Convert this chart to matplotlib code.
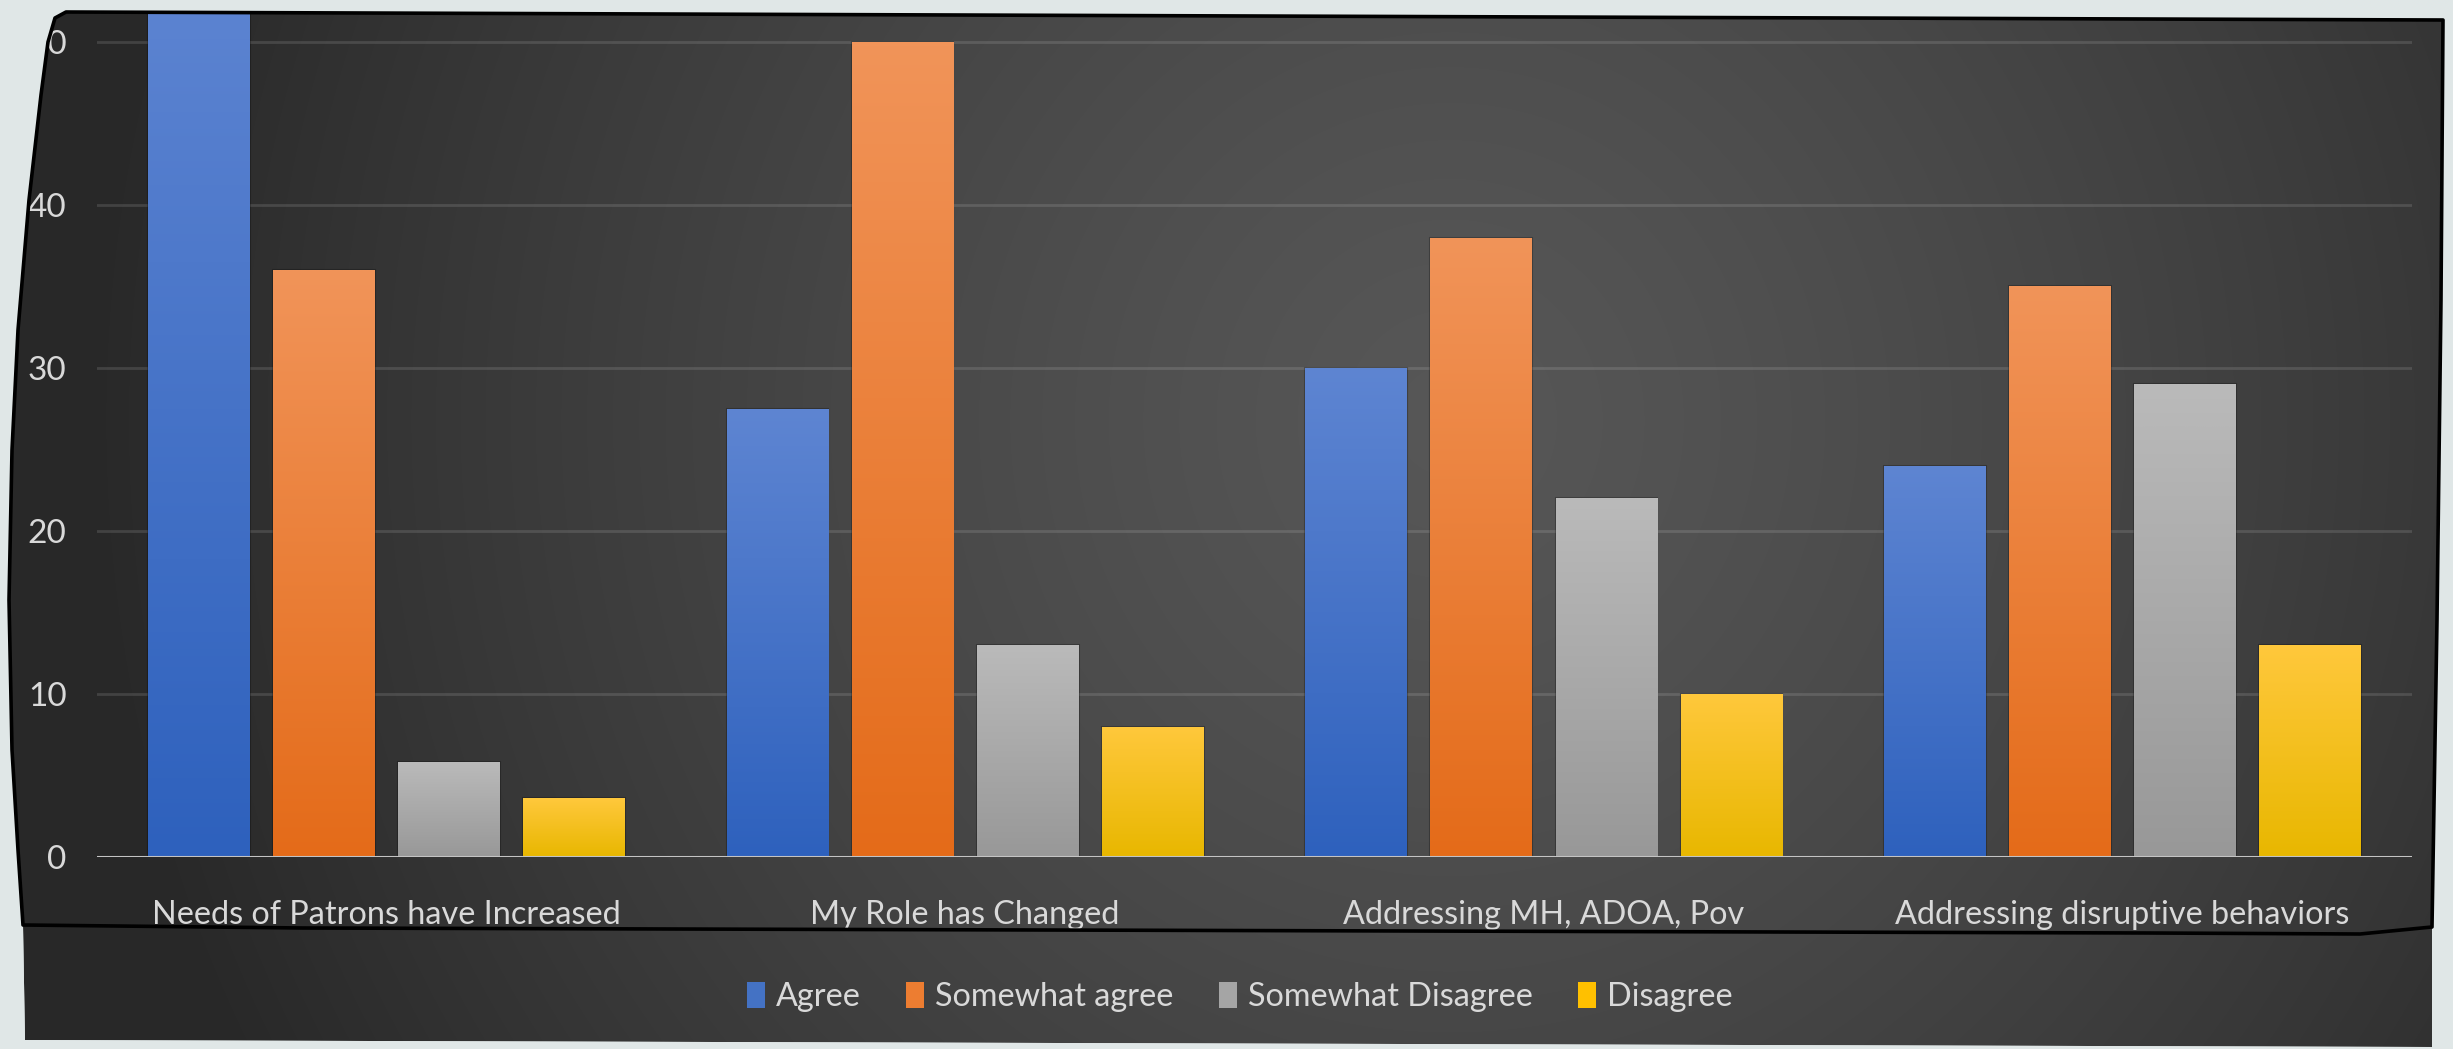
import numpy as np
import matplotlib
matplotlib.use("Agg")
import matplotlib.pyplot as plt
from matplotlib.patches import Polygon, Patch, PathPatch
from matplotlib.path import Path
from matplotlib.colors import LinearSegmentedColormap

# ---------------- data ----------------
categories = ["Needs of Patrons have Increased", "My Role has Changed",
              "Addressing MH, ADOA, Pov", "Addressing disruptive behaviors"]
series = ["Agree", "Somewhat agree", "Somewhat Disagree", "Disagree"]
agree = [55, 27.5, 30, 24]
somewhat_agree = [36, 50, 38, 35]
somewhat_disagree = [5.8, 13, 22, 29]
disagree = [3.6, 8, 10, 13]
y_ticks = [0, 10, 20, 30, 40, 50]

values = [agree, somewhat_agree, somewhat_disagree, disagree]
grad_top = ["#5e85d2", "#f19459", "#bababa", "#ffc83c"]
grad_bot = ["#2e61bd", "#e46b19", "#989898", "#e8b700"]
mid_cols = ["#4472c4", "#ed7d31", "#a5a5a5", "#ffc000"]

W, H = 2453, 1049
FONT = "Lato"
TXT = "#d9d9d9"
OUTER = "#e0e7e7"

fig = plt.figure(figsize=(W / 100, H / 100), dpi=100)
fig.patch.set_facecolor(OUTER)

# ---------------- background panel ----------------
bg = fig.add_axes([0, 0, 1, 1], zorder=0)
bg.set_xlim(0, W)
bg.set_ylim(H, 0)
bg.axis("off")

left_edge = [(23, 925), (18, 850), (12, 750), (9, 600), (12, 450), (18, 330),
             (29, 200), (41, 95), (48, 42), (55, 18), (66, 12)]
top_right = [(2443, 20), (2441, 300), (2437, 620), (2432, 927)]
panel_pts = left_edge + top_right + [(2432, 1047), (25, 1040)]
frame_pts = left_edge + top_right + [(2360, 934), (2150, 933), (303, 928)]

panel = Polygon(panel_pts, closed=True, facecolor="none", edgecolor="none")
bg.add_patch(panel)

yy, xx = np.mgrid[0:H:4, 0:W:4]
d = np.sqrt(((xx - 1450) / 1350.0) ** 2 + ((yy - 420) / 1400.0) ** 2)
d = np.clip(d, 0, 1)
shade = 0.34 - 0.18 * d ** 1.3
img = np.dstack([shade, shade, shade])
im = bg.imshow(img, extent=(0, W, H, 0), aspect="auto", interpolation="bilinear", zorder=1)
im.set_clip_path(panel)

# ---------------- main axes ----------------
ax = fig.add_axes([97 / W, (H - 857) / H, (2412 - 97) / W, (857 - 12) / H], zorder=2)
ax.set_facecolor("none")
ax.set_xlim(-0.5, len(categories) - 0.5)
ax.set_ylim(0, 51.84)
for s in ax.spines.values():
    s.set_visible(False)
ax.set_axisbelow(True)
ax.yaxis.grid(True, color="white", alpha=0.12, lw=2)
ax.axhline(0, color="#c4c4c4", lw=2.2, zorder=4)

x = np.arange(len(categories))
width = 0.1757
pitch = 0.2162
for i, vals in enumerate(values):
    off = (i - 1.5) * pitch
    bars = ax.bar(x + off, vals, width, color=mid_cols[i], zorder=2, label=series[i])
    cmap = LinearSegmentedColormap.from_list("g%d" % i, [grad_bot[i], grad_top[i]])
    grad = np.linspace(0, 1, 256).reshape(-1, 1)
    for b in bars:
        x0, y0 = b.get_x(), b.get_y()
        gi = ax.imshow(grad, cmap=cmap, extent=(x0, x0 + b.get_width(), y0, y0 + b.get_height()),
                       origin="lower", aspect="auto", zorder=3, interpolation="bilinear")
        gi.set_clip_path(b)
        b.set_edgecolor((0, 0, 0, 0.25))
        b.set_linewidth(1.5)

ax.set_yticks(y_ticks)
ax.set_yticklabels([str(t) for t in y_ticks], fontsize=24, color=TXT, family=FONT)
ax.set_xticks(x)
ax.set_xticklabels(categories, fontsize=23.3, color=TXT, family=FONT)
ax.tick_params(axis="y", length=0, pad=22)
ax.tick_params(axis="x", length=0, pad=31)

# ---------------- mask outside panel + frame ----------------
top = fig.add_axes([0, 0, 1, 1], zorder=3)
top.set_xlim(0, W)
top.set_ylim(H, 0)
top.axis("off")
top.patch.set_alpha(0)


def signed_area(pts):
    a = 0.0
    for (x1, y1), (x2, y2) in zip(pts, pts[1:] + pts[:1]):
        a += x1 * y2 - x2 * y1
    return a / 2.0


outer = [(-5, -5), (W + 5, -5), (W + 5, H + 5), (-5, H + 5)]
inner = list(panel_pts)
if np.sign(signed_area(outer)) == np.sign(signed_area(inner)):
    inner = inner[::-1]
verts = outer + [outer[0]] + inner + [inner[0]]
codes = ([Path.MOVETO] + [Path.LINETO] * (len(outer) - 1) + [Path.CLOSEPOLY]
         + [Path.MOVETO] + [Path.LINETO] * (len(inner) - 1) + [Path.CLOSEPOLY])
top.add_patch(PathPatch(Path(verts, codes), facecolor=OUTER, edgecolor="none", zorder=1))

frame = Polygon(frame_pts, closed=True, facecolor="none", edgecolor="black",
                lw=2.6, joinstyle="round", zorder=5)
top.add_patch(frame)

# ---------------- legend ----------------
handles = [Patch(facecolor=mid_cols[i], edgecolor="none") for i in range(4)]
leg = fig.legend(handles, series, loc="center", bbox_to_anchor=(1240 / W, 1 - 997 / H),
                 ncol=4, frameon=False, handlelength=0.55, handleheight=0.85,
                 handletextpad=0.35, columnspacing=1.4,
                 prop={"family": FONT, "size": 23.3})
leg.set_zorder(10)
for t in leg.get_texts():
    t.set_color(TXT)

fig.savefig("out.png", dpi=100, facecolor=fig.get_facecolor())
